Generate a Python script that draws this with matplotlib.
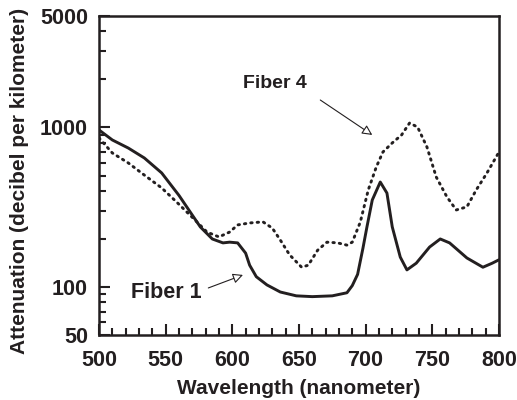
import numpy as np
import matplotlib
matplotlib.use("Agg")
import matplotlib.pyplot as plt
from matplotlib.ticker import FixedLocator, NullFormatter

plt.rcParams['font.family'] = ['Liberation Sans', 'DejaVu Sans']
plt.rcParams['font.weight'] = 'bold'

INK = '#231f20'

# Fiber 1 (solid)
wl1 = [500, 510, 522, 534, 547, 560, 576, 585, 593, 598, 604, 610, 613, 618, 626,
       636, 648, 660, 675, 686, 690, 694, 698, 701, 705, 711, 716, 720, 726, 731,
       738, 748, 756, 763, 776, 788, 795, 800]
att1 = [965, 835, 743, 644, 519, 375, 238, 200, 189, 191, 189, 163, 137, 116, 103,
        93, 88, 87, 88, 92, 102, 120, 175, 238, 351, 455, 388, 238, 154, 128,
        141, 178, 200, 189, 152, 133, 141, 148]

# Fiber 4 (dotted)
wl4 = [500, 510, 522, 534, 547, 559, 572, 581, 590, 598, 604, 613, 623, 630, 636,
       643, 652, 657, 664, 671, 679, 686, 690, 696, 702, 708, 713, 720, 727, 733,
       739, 746, 753, 761, 768, 776, 783, 791, 800]
att4 = [860, 692, 599, 503, 418, 336, 263, 221, 206, 221, 245, 252, 256, 234, 197,
        159, 133, 137, 170, 191, 189, 183, 191, 255, 406, 565, 702, 800, 898, 1067,
        1006, 755, 489, 367, 304, 318, 406, 518, 700]

yticks = [50, 100, 1000, 5000]
xticks = [500, 550, 600, 650, 700, 750, 800]

fig = plt.figure(figsize=(5.17, 4.0), dpi=100)
ax = fig.add_axes([0.1915, 0.1625, 0.7735, 0.7975])

ax.plot(wl1, att1, color=INK, lw=2.1, solid_capstyle='round', solid_joinstyle='round')
ax.plot(wl4, att4, color=INK, lw=2.1, linestyle=(0, (0.5, 1.7)), dash_capstyle='round')

ax.set_yscale('log')
ax.set_xlim(500, 800)
ax.set_ylim(50, 5000)

ax.set_xticks(xticks)
ax.xaxis.set_minor_locator(FixedLocator(np.arange(500, 801, 10)))
ax.yaxis.set_major_locator(FixedLocator(yticks))
ax.set_yticklabels([str(t) for t in yticks])
ymin = [60, 70, 80, 90] + list(range(200, 1000, 100)) + [2000, 3000, 4000]
ax.yaxis.set_minor_locator(FixedLocator(ymin))
ax.yaxis.set_minor_formatter(NullFormatter())

ax.tick_params(which='both', direction='in', colors=INK, width=1.5, labelsize=15.5)
ax.tick_params(axis='x', which='both', pad=10.5)
ax.tick_params(axis='y', which='both', pad=8)
ax.tick_params(which='major', length=8)
ax.tick_params(which='minor', length=5)
for lab in ax.get_xticklabels() + ax.get_yticklabels():
    lab.set_fontweight('bold')

for s in ax.spines.values():
    s.set_linewidth(1.8)
    s.set_color(INK)

ax.set_xlabel('Wavelength (nanometer)', fontsize=15, fontweight='bold', color=INK, labelpad=6)
ax.set_ylabel('Attenuation (decibel per kilometer)', fontsize=15, fontweight='bold',
              color=INK)
ax.yaxis.set_label_coords(-0.175, 0.483)

arrow = dict(arrowstyle='-|>', fc='white', ec=INK, lw=0.8, mutation_scale=15,
             shrinkA=0, shrinkB=0)
ax.text(656, 1875, 'Fiber 4', fontsize=14, fontweight='bold', color=INK,
        ha='right', va='center')
ax.annotate('', xy=(705, 898), xytext=(666, 1487), arrowprops=arrow)
ax.text(577, 92, 'Fiber 1', fontsize=15.5, fontweight='bold', color=INK,
        ha='right', va='center')
ax.annotate('', xy=(608, 119), xytext=(582, 98.6), arrowprops=arrow)

fig.savefig('out.png', dpi=100)
